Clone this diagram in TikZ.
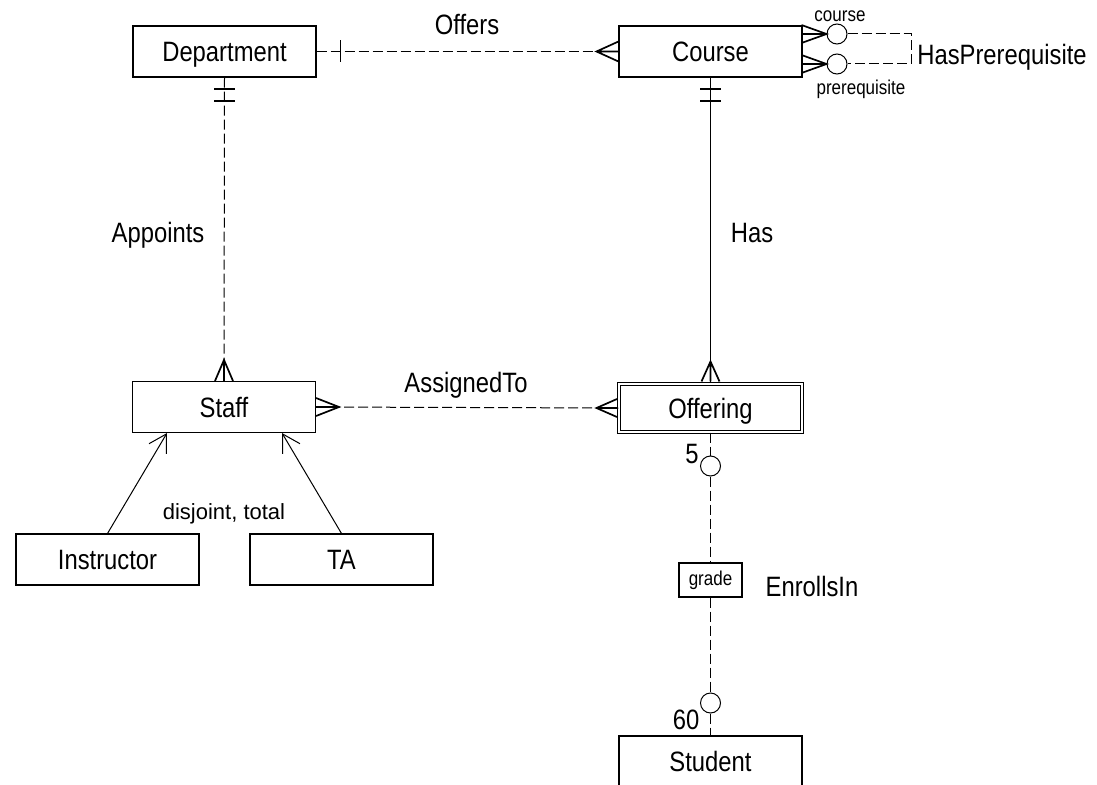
\documentclass[tikz,border=0pt]{standalone}
\usepackage{fontspec}
\setmainfont{Liberation Sans}[FakeStretch=0.85]
\newfontfamily\plainsans{Liberation Sans}
\usetikzlibrary{calc,arrows.meta}
\begin{document}
\begin{tikzpicture}[x=1pt,y=-1pt,
 ent/.style={draw,line width=1.05pt,minimum width=183pt,minimum height=51pt,inner sep=0pt,text height=20pt,text depth=0pt,font=\fontsize{28}{30}\selectfont},
 lbl/.style={inner sep=0pt,text height=20pt,text depth=0pt,font=\fontsize{28}{30}\selectfont},
 small/.style={inner sep=0pt,anchor=base,font=\fontsize{20}{22}\selectfont},
 circ/.style={circle,draw,line width=1pt,minimum size=20pt,inner sep=0pt},
 conn/.style={line width=1pt},
 dconn/.style={line width=1pt,dash pattern=on 10pt off 4pt},
 crow/.style={line width=1.7pt},
 isa/.style={line width=1pt,-{Straight Barb[angle=60:20pt,line width=1pt]}}
]
\useasboundingbox (0,0) rectangle (1097,784);
% entities
\node[ent] (dept) at (224.5,51.5) {Department};
\node[ent] (course) at (710.5,51.5) {Course};
\node[ent] (staff) at (224,407) {Staff};
\node[ent,double,double distance=2.6pt,minimum height=48pt] (offering) at (710.5,408) {Offering};
\node[ent] (instr) at (107.5,559.5) {Instructor};
\node[ent] (ta) at (341.5,559.5) {TA};
\node[ent,minimum height=50pt] (student) at (710.5,761) {Student};
\node[draw,line width=1.05pt,minimum width=63pt,minimum height=34pt,inner sep=0pt,text height=14pt,text depth=4pt,font=\fontsize{20}{22}\selectfont] (grade) at (710.5,580) {grade};
% circles
\node[circ] (p1) at (837,34) {};
\node[circ] (p2) at (837,64) {};
\node[circ] (e1) at (710.5,466) {};
\node[circ] (e2) at (710.5,703) {};
% Offers
\draw[dconn] (dept.east) -- (course.west);
\draw[conn] ($(dept.east)+(24,-11)$) -- ($(dept.east)+(24,11)$);
\draw[crow] ($(course.west)+(0,-10)$) -- ($(course.west)+(-22,0)$) -- ($(course.west)+(0,10)$)
            ($(course.west)+(-22,0)$) -- (course.west);
% Appoints
\draw[dconn] (dept.south) -- (staff.north);
\draw[crow] ($(dept.south)+(-10.5,11.5)$) -- ($(dept.south)+(10.5,11.5)$)
            ($(dept.south)+(-10.5,23.5)$) -- ($(dept.south)+(10.5,23.5)$);
\draw[crow] ($(staff.north)+(-9,0)$) -- ($(staff.north)+(0,-21)$) -- ($(staff.north)+(9,0)$)
            ($(staff.north)+(0,-21)$) -- (staff.north);
% Has
\draw[conn] (course.south) -- (offering.north);
\draw[crow] ($(course.south)+(-10.5,11.5)$) -- ($(course.south)+(10.5,11.5)$)
            ($(course.south)+(-10.5,23.5)$) -- ($(course.south)+(10.5,23.5)$);
\draw[crow] ($(offering.north)+(-9,-2)$) -- ($(offering.north)+(0,-22)$) -- ($(offering.north)+(9,-2)$)
            ($(offering.north)+(0,-22)$) -- ($(offering.north)+(0,-2)$);
% AssignedTo
\draw[dconn] (staff.east) -- (offering.west);
\draw[crow] ($(staff.east)+(0,-9)$) -- ($(staff.east)+(23,0)$) -- ($(staff.east)+(0,9)$)
            ($(staff.east)+(23,0)$) -- (staff.east);
\draw[crow] ($(offering.west)+(-1.5,-9)$) -- ($(offering.west)+(-22,0)$) -- ($(offering.west)+(-1.5,9)$)
            ($(offering.west)+(-22,0)$) -- ($(offering.west)+(-1.5,0)$);
% HasPrerequisite
\coordinate (h1) at (911,34);
\coordinate (h2) at (911,64);
\draw[dconn] (p1.east) -- (h1) -- (h2) -- (p2.east);
\draw[crow] ($(p1.west)+(-25,-9)$) -- (p1.west) -- ($(p1.west)+(-25,9)$)
            ($(p1.west)+(-25,0)$) -- (p1.west);
\draw[crow] ($(p2.west)+(-25,-9)$) -- (p2.west) -- ($(p2.west)+(-25,9)$)
            ($(p2.west)+(-25,0)$) -- (p2.west);
% EnrollsIn
\draw[dconn] (offering.south) -- (e1.north);
\draw[dconn] (e1.south) -- (grade.north);
\draw[dconn] (grade.south) -- (e2.north);
\draw[dconn] (e2.south) -- (student.north);
% ISA
\coordinate (isaL) at ($(staff.south)+(-57,0)$);
\coordinate (isaR) at ($(staff.south)+(58,0)$);
\draw[isa] (instr.north) -- (isaL);
\draw[isa] (ta.north) -- (isaR);
% labels
\node[lbl] (offersL) at (467,25) {Offers};
\node[lbl] (appL) at (158,232) {Appoints};
\node[lbl] (hasL) at (752,232) {Has};
\node[lbl] (asgL) at (466,382) {AssignedTo};
\node[lbl] (hpL) at (1002,54) {HasPrerequisite};
\node[lbl] (enrL) at (812,586) {EnrollsIn};
\node[lbl] (fiveL) at (692,453) {5};
\node[lbl] (sixtyL) at (686,719) {60};
\node[small] (crsL) at (840,22) {course};
\node[small] (preL) at (861,94) {prerequisite};
\node[inner sep=0pt,anchor=base,font=\plainsans\fontsize{22}{24}\selectfont] (djL) at (224,519) {disjoint, total};
\end{tikzpicture}
\end{document}
